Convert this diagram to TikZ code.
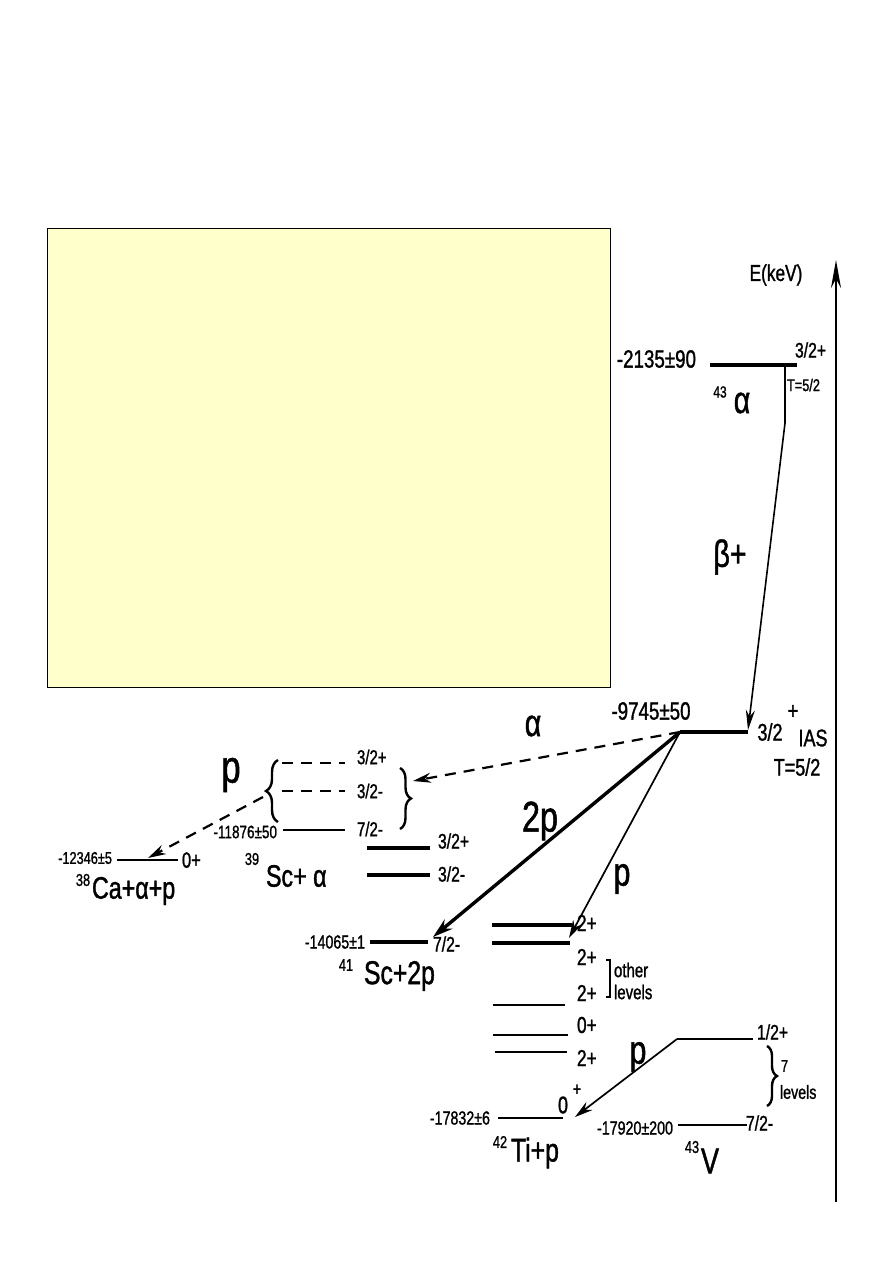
\documentclass[tikz,border=0pt]{standalone}
\usepackage{fontspec}
\setmainfont{Liberation Sans}[FakeStretch=0.75,FakeBold=1.2]
\usetikzlibrary{arrows.meta,decorations.pathreplacing}
\definecolor{yellowbox}{HTML}{FFFFCC}
\newcommand{\myfs}[1]{\fontsize{#1}{#1}\selectfont}
\begin{document}
\begin{tikzpicture}[x=1pt,y=-1pt,
  txt/.style={inner sep=0pt, outer sep=0pt},
  lvl/.style={line width=3.2pt},
  lvlthin/.style={line width=2.6pt},
  lvlthick/.style={line width=4.2pt},
  trans/.style={line width=1.7pt, -{Stealth[length=18pt,width=10pt]}},
  dsh/.style={line width=2.2pt, dash pattern=on 11pt off 8pt},
  brc/.style={decorate, line width=2.4pt},
]
\useasboundingbox (0,0) rectangle (893,1263);
\fill[white] (0,0) rectangle (893,1263);
\draw[fill=yellowbox, line width=1pt] (47,228) rectangle (610,687);

% energy axis
\coordinate (axb) at (836,1202);
\coordinate (axt) at (836,260);
\draw[line width=2.2pt, -{Stealth[length=28pt,width=10pt]}] (axb) -- (axt);
\node[txt, font=\myfs{23}] (ekev) at (776,275) {E(keV)};

% 43Cr ground state
\coordinate (crL) at (710,365);
\coordinate (crR) at (797,365);
\draw[lvl] (crL) -- (crR);
\node[txt, font=\myfs{25}, anchor=east] (crE) at (696,359) {-2135±90};
\node[txt, font=\myfs{21}, anchor=west] (crJ) at (795,350) {3/2+};
\node[txt, font=\myfs{17}, anchor=west] (crT) at (787,385) {T=5/2};
\node[txt, font=\myfs{16}] (crA) at (720,392) {43};
\node[txt, font=\myfs{38}] (crN) at (742,403) {α};

% beta decay to IAS
\coordinate (b0) at (785,365);
\coordinate (b1) at (785,423);
\coordinate (iasL) at (680,732);
\coordinate (iasR) at (748,732);
\coordinate (iasTip) at (748,730);
\draw[line width=1.6pt, -{Stealth[length=20pt,width=9pt]}] (b0) -- (b1) -- (iasTip);
\node[txt, font=\myfs{38}] (beta) at (730,557) {β+};

% IAS level
\draw[lvl] (iasL) -- (iasR);
\node[txt, font=\myfs{25}] (iasE) at (651,711) {-9745±50};
\node[txt, font=\myfs{24}] (iasJ) at (770,732) {3/2};
\node[txt, font=\myfs{24}] (iasP) at (793,712) {+};
\node[txt, font=\myfs{24}] (iasI) at (813,738) {IAS};
\node[txt, font=\myfs{24}] (iasT) at (797,767) {T=5/2};

% alpha branch to 39Sc + alpha
\coordinate (scTip) at (413,781);
\draw[dsh, -{Stealth[length=18pt,width=10pt]}] (iasL) -- (scTip);
\node[txt, font=\myfs{38}] (alab) at (533,726) {α};

\coordinate (sa1L) at (282,763); \coordinate (sa1R) at (345,763);
\coordinate (sa2L) at (282,791); \coordinate (sa2R) at (345,791);
\coordinate (sa3L) at (283,830); \coordinate (sa3R) at (345,830);
\draw[dsh] (sa1L) -- (sa1R);
\draw[dsh] (sa2L) -- (sa2R);
\draw[lvlthin] (sa3L) -- (sa3R);
\node[txt, font=\myfs{20}, anchor=west] (sa1J) at (357,757) {3/2+};
\node[txt, font=\myfs{20}, anchor=west] (sa2J) at (357,791) {3/2-};
\node[txt, font=\myfs{20}, anchor=west] (sa3J) at (357,829) {7/2-};
\node[txt, font=\myfs{18}, anchor=east] (sa3E) at (277,832) {-11876±50};
\draw[brc, decoration={brace, amplitude=12pt}] (278,822) -- (278,760);
\draw[brc, decoration={brace, amplitude=11pt}] (400,768) -- (400,829);
\node[txt, font=\myfs{46}] (pSc) at (231,775) {p};

\coordinate (sb1L) at (367,848); \coordinate (sb1R) at (430,848);
\coordinate (sb2L) at (367,875); \coordinate (sb2R) at (430,875);
\draw[lvl] (sb1L) -- (sb1R);
\draw[lvl] (sb2L) -- (sb2R);
\node[txt, font=\myfs{21}, anchor=west] (sb1J) at (438,841) {3/2+};
\node[txt, font=\myfs{21}, anchor=west] (sb2J) at (438,874) {3/2-};
\node[txt, font=\myfs{17}] (scA) at (252,859) {39};
\node[txt, font=\myfs{31}, anchor=west] (scN) at (266,876) {Sc+ α};

% proton to 38Ca + alpha + p
\coordinate (pStart) at (263,797);
\coordinate (caTip) at (148,858);
\draw[dsh, -{Stealth[length=18pt,width=10pt]}] (pStart) -- (caTip);
\coordinate (caL) at (117,860); \coordinate (caR) at (178,860);
\draw[lvlthin] (caL) -- (caR);
\node[txt, font=\myfs{17}, anchor=east] (caE) at (112,858) {-12346±5};
\node[txt, font=\myfs{22}, anchor=west] (caJ) at (182,860) {0+};
\node[txt, font=\myfs{17}] (caA) at (83,880) {38};
\node[txt, font=\myfs{31}, anchor=west] (caN) at (92,891) {Ca+α+p};

% 2p branch to 41Sc
\coordinate (s2Tip) at (433,937);
\draw[line width=3.4pt, -{Stealth[length=20pt,width=12pt]}] (iasL) -- (s2Tip);
\node[txt, font=\myfs{43}] (l2p) at (540,821) {2p};
\coordinate (s2L) at (370,942); \coordinate (s2R) at (428,942);
\draw[lvl] (s2L) -- (s2R);
\node[txt, font=\myfs{19}, anchor=east] (s2E) at (365,942) {-14065±1};
\node[txt, font=\myfs{21}, anchor=west] (s2J) at (433,944) {7/2-};
\node[txt, font=\myfs{17}] (s2A) at (346,965) {41};
\node[txt, font=\myfs{33}, anchor=west] (s2N) at (364,976) {Sc+2p};

% p branch to 42Ti
\coordinate (tiTip) at (569,938);
\draw[trans] (iasL) -- (tiTip);
\node[txt, font=\myfs{40}] (lp1) at (622,879) {p};
\coordinate (t1L) at (492,925); \coordinate (t1R) at (572,925);
\coordinate (t2L) at (492,943); \coordinate (t2R) at (570,943);
\coordinate (t3L) at (493,1005); \coordinate (t3R) at (565,1005);
\coordinate (t4L) at (493,1035); \coordinate (t4R) at (568,1035);
\coordinate (t5L) at (495,1052); \coordinate (t5R) at (567,1052);
\draw[lvlthick] (t1L) -- (t1R);
\draw[lvlthick] (t2L) -- (t2R);
\draw[lvlthin] (t3L) -- (t3R);
\draw[lvlthin] (t4L) -- (t4R);
\draw[lvlthin] (t5L) -- (t5R);
\node[txt, font=\myfs{23}, anchor=west] (t1J) at (577,923) {2+};
\node[txt, font=\myfs{23}, anchor=west] (t2J) at (577,957) {2+};
\node[txt, font=\myfs{23}, anchor=west] (t3J) at (577,993) {2+};
\node[txt, font=\myfs{23}, anchor=west] (t4J) at (577,1025) {0+};
\node[txt, font=\myfs{23}, anchor=west] (t5J) at (577,1058) {2+};
\draw[line width=1.8pt] (606,960) -- (610,960) -- (610,997) -- (606,997);
\node[txt, font=\myfs{20}, anchor=west] (oth1) at (614,970) {other};
\node[txt, font=\myfs{20}, anchor=west] (oth2) at (614,992) {levels};

% 42Ti + p ground state
\coordinate (tgL) at (498,1118); \coordinate (tgR) at (563,1118);
\draw[lvlthin] (tgL) -- (tgR);
\node[txt, font=\myfs{19}, anchor=east] (tgE) at (490,1118) {-17832±6};
\node[txt, font=\myfs{24}] (tgJ) at (563,1105) {0};
\node[txt, font=\myfs{19}] (tgP) at (577,1090) {+};
\node[txt, font=\myfs{17}] (tiA) at (500,1142) {42};
\node[txt, font=\myfs{33}, anchor=west] (tiN) at (511,1153) {Ti+p};

% 43V
\coordinate (v1L) at (677,1039); \coordinate (v1R) at (753,1039);
\coordinate (v2L) at (678,1125); \coordinate (v2R) at (747,1125);
\draw[lvlthin] (v1L) -- (v1R);
\draw[lvlthin] (v2L) -- (v2R);
\node[txt, font=\myfs{21}, anchor=west] (v1J) at (757,1032) {1/2+};
\node[txt, font=\myfs{21}, anchor=west] (v2J) at (746,1123) {7/2-};
\node[txt, font=\myfs{19}, anchor=east] (v2E) at (673,1128) {-17920±200};
\draw[brc, decoration={brace, amplitude=10pt}] (767,1046) -- (767,1106);
\node[txt, font=\myfs{17}, anchor=west] (v7) at (781,1066) {7};
\node[txt, font=\myfs{19}, anchor=west] (vlev) at (780,1092) {levels};
\node[txt, font=\myfs{17}] (vA) at (692,1147) {43};
\node[txt, font=\myfs{36}] (vN) at (710,1161) {V};

% p from 43V to 42Ti
\coordinate (tgTip) at (575,1117);
\draw[trans] (v1L) -- (tgTip);
\node[txt, font=\myfs{40}] (lp2) at (638,1057) {p};
\end{tikzpicture}
\end{document}
